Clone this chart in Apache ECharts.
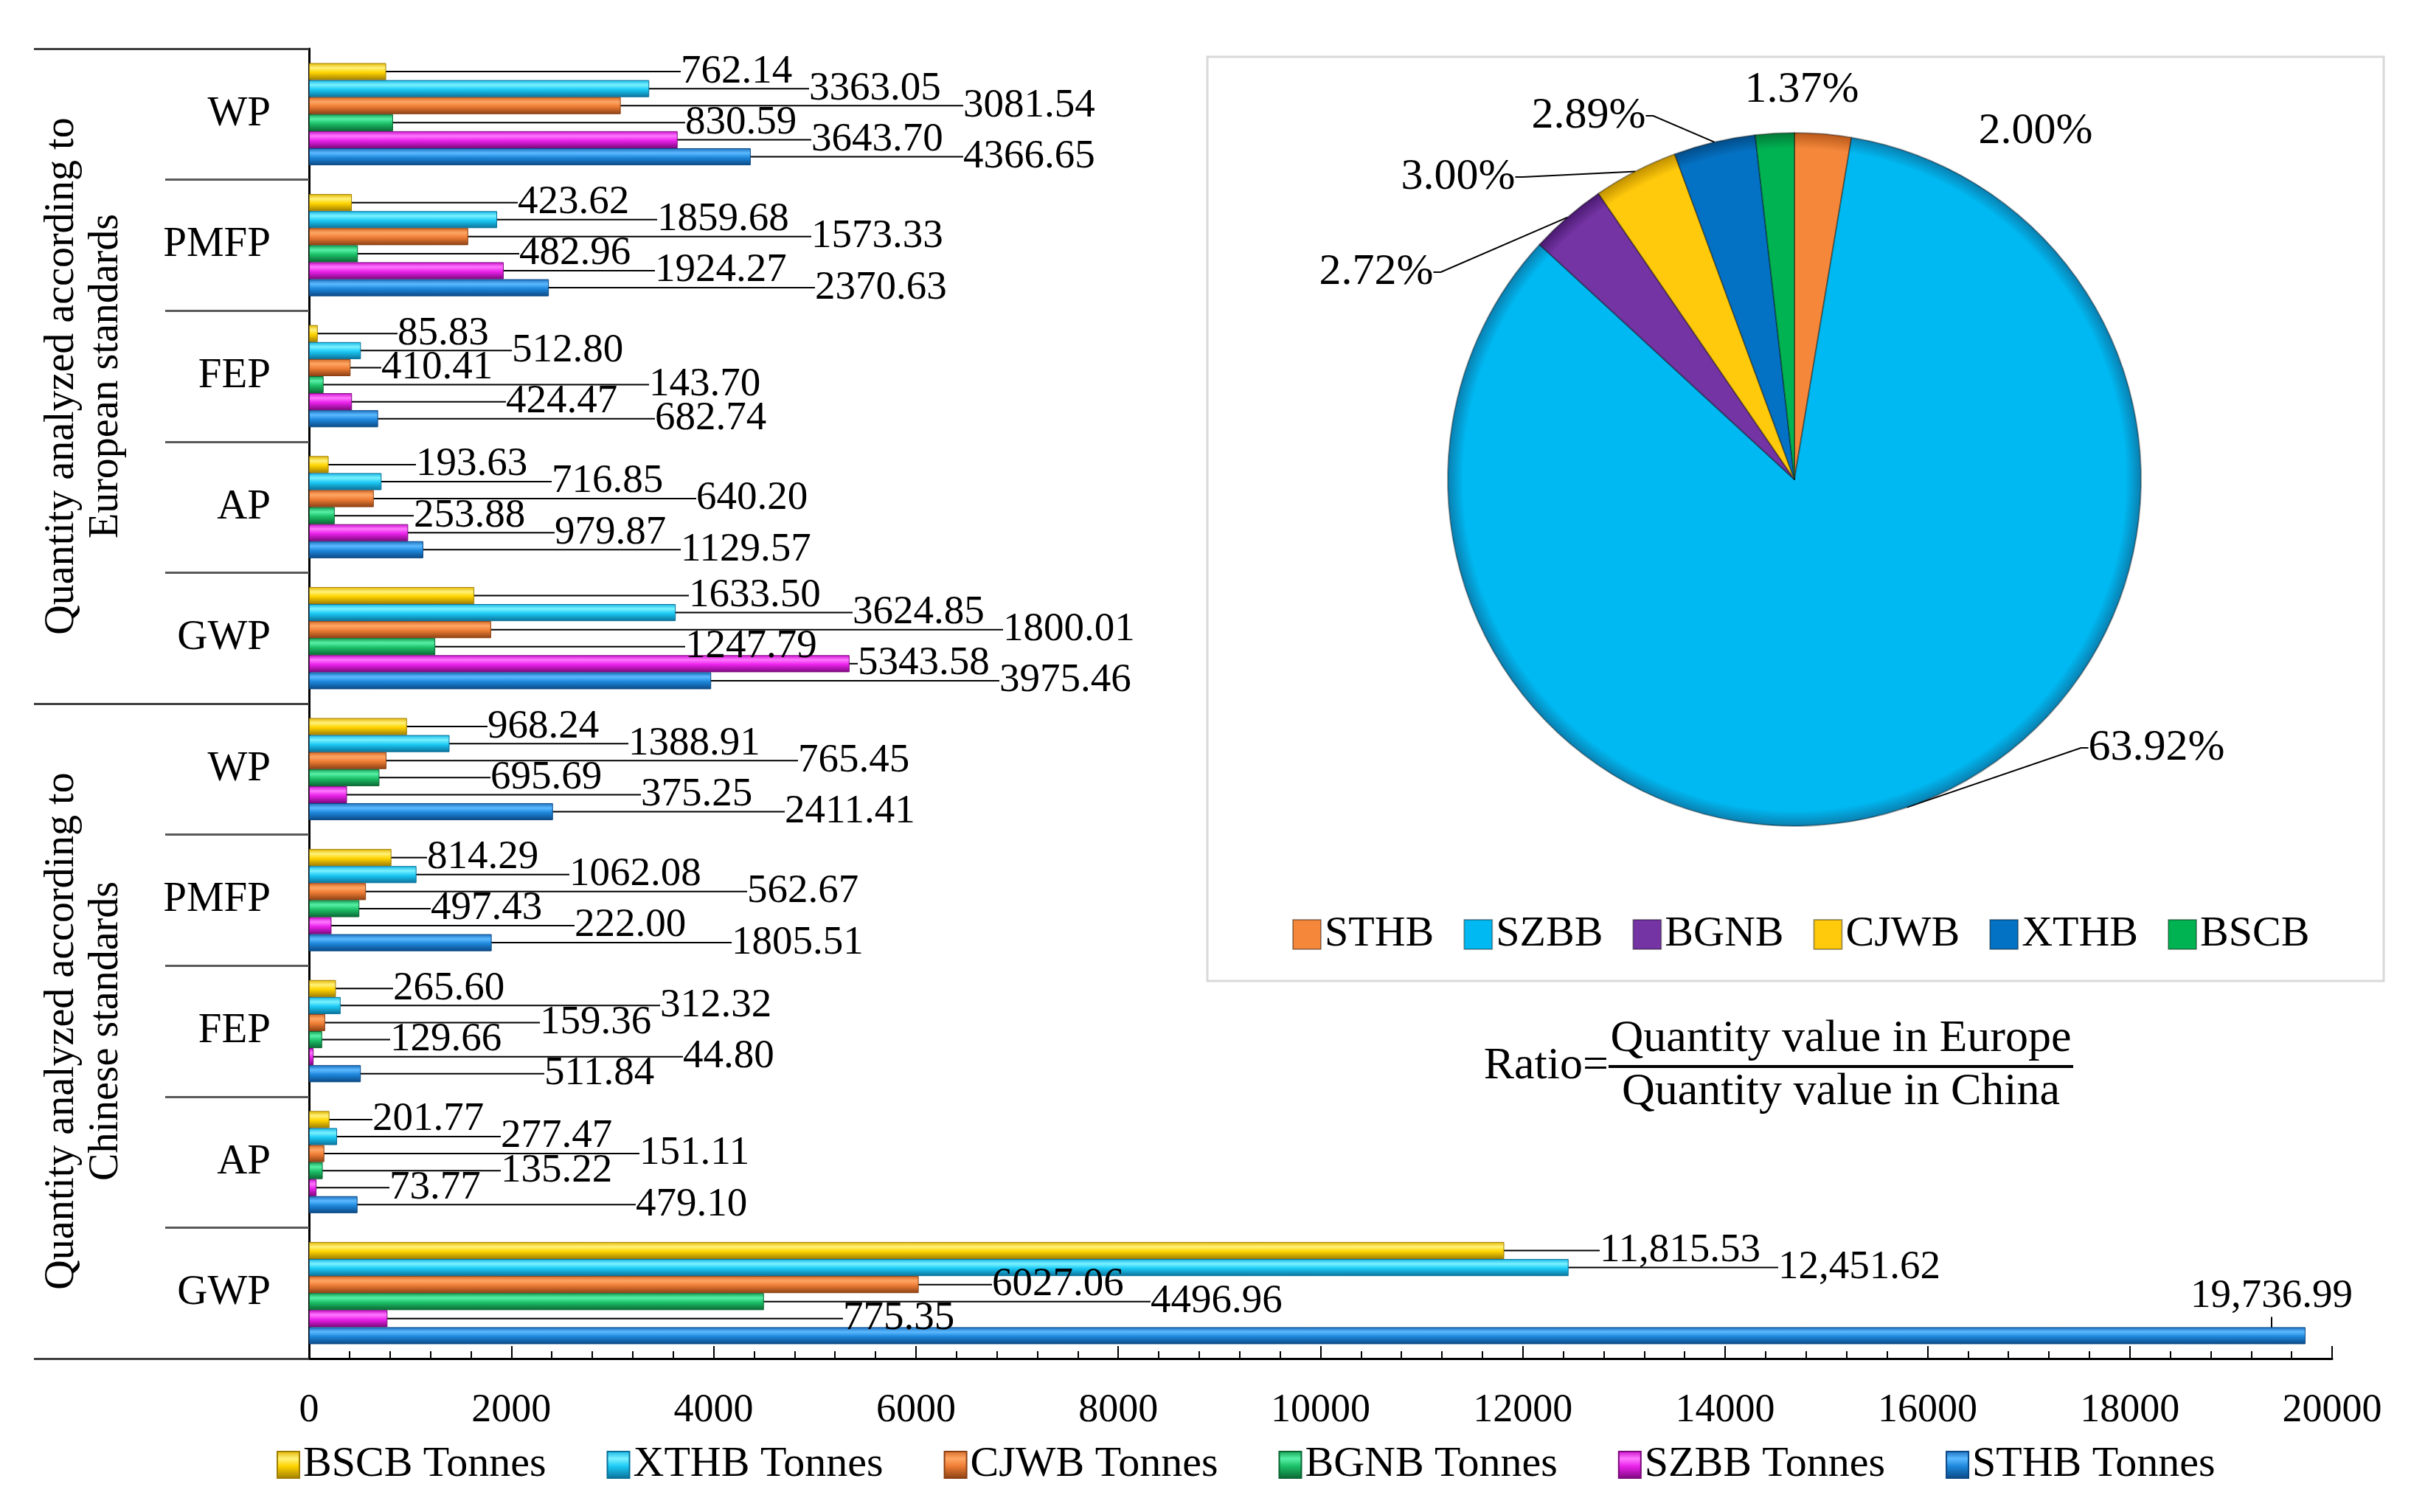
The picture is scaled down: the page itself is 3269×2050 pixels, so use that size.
<!DOCTYPE html>
<html>
<head>
<meta charset="utf-8">
<title>Quantity analyzed according to European and Chinese standards</title>
<script src="https://cdn.jsdelivr.net/npm/echarts@6/dist/echarts.min.js"></script>
<style>
  html, body { margin: 0; padding: 0; background: #fff; }
  #chart { width: 3269px; height: 2050px; }
</style>
</head>
<body>
<div id="chart"></div>
<script>
// ---------------------------------------------------------------------------
// Data
// ---------------------------------------------------------------------------

const CATEGORIES = ['WP', 'PMFP', 'FEP', 'AP', 'GWP', 'WP', 'PMFP', 'FEP', 'AP', 'GWP']
const STANDARDS = [
  'Quantity analyzed according to\nEuropean standards',
  'Quantity analyzed according to\nChinese standards',
]

const SERIES_NAMES = ['BSCB Tonnes', 'XTHB Tonnes', 'CJWB Tonnes', 'BGNB Tonnes', 'SZBB Tonnes', 'STHB Tonnes']

// first five values: European standards, last five: Chinese standards
const BSCB = [762.14, 423.62, 85.83, 193.63, 1633.50, 968.24, 814.29, 265.60, 201.77, 11815.53]
const XTHB = [3363.05, 1859.68, 512.80, 716.85, 3624.85, 1388.91, 1062.08, 312.32, 277.47, 12451.62]
const CJWB = [3081.54, 1573.33, 410.41, 640.20, 1800.01, 765.45, 562.67, 159.36, 151.11, 6027.06]
const BGNB = [830.59, 482.96, 143.70, 253.88, 1247.79, 695.69, 497.43, 129.66, 135.22, 4496.96]
const SZBB = [3643.70, 1924.27, 424.47, 979.87, 5343.58, 375.25, 222.00, 44.80, 73.77, 775.35]
const STHB = [4366.65, 2370.63, 682.74, 1129.57, 3975.46, 2411.41, 1805.51, 511.84, 479.10, 19736.99]

const X_MAX = 20000
const X_STEP = 2000

const PIE_NAMES = ['STHB', 'SZBB', 'BGNB', 'CJWB', 'XTHB', 'BSCB']
const PIE_RATIOS = [2.00, 63.92, 2.72, 3.00, 2.89, 1.37]

// ---------------------------------------------------------------------------
// Layout / style
// ---------------------------------------------------------------------------

const FONT = '"Liberation Serif", "Times New Roman", serif'

/** [base, highlight, mid, shadow] for the bevelled bars */
const BAR_SHADES = [
  ['#e2b400', '#fff27a', '#ffd400', '#a07e00'],
  ['#12b4e4', '#7af2ff', '#1ccaf5', '#0a7098'],
  ['#d66a28', '#ffa664', '#ee7d35', '#8a4014'],
  ['#14a052', '#56f0a6', '#1cc068', '#0b6633'],
  ['#cc10cc', '#ff78ff', '#ea22ea', '#7c087c'],
  ['#1a6ebe', '#5cbaff', '#1e88dc', '#0b4884'],
]

/** [fill, rim] for the pie slices */
const PIE_SHADES = [
  ['#f4873a', '#b95a1c'],
  ['#00b9f2', '#0a7fb0'],
  ['#7434a4', '#4a1a70'],
  ['#ffc90c', '#c09000'],
  ['#0472c4', '#034c88'],
  ['#00b352', '#037a38'],
]

// left edge of each value label (px), row = category, column = series
const LABEL_X = [
  [923, 1097, 1306, 929, 1100, 1306],
  [702, 891, 1100, 704, 888, 1105],
  [539, 694, 517, 880, 686, 888],
  [564, 748, 944, 561, 752, 923],
  [934, 1156, 1360, 929, 1163, 1355],
  [661, 852, 1082, 665, 869, 1064],
  [579, 772, 1013, 584, 779, 992],
  [533, 895, 732, 529, 926, 738],
  [505, 679, 867, 679, 528, 862],
  [2169, 2411, 1345, 1560, 1143, 2970],
]
// vertical shift of a few labels, key = `${dataIndex}-${seriesIndex}`
const LABEL_DY = { '9-5': -53 }

const PIE_CENTER = [2433, 650]
const PIE_RADIUS = 470
// label centre relative to the pie centre
const PIE_LABEL_OFFSET = [
  [327, -472],
  [491, 364],
  [-567, -281],
  [-456, -410],
  [-279, -493],
  [10, -528],
]
const PIE_LABEL_LINE = [false, true, true, true, true, false]

// ---------------------------------------------------------------------------
// Helpers
// ---------------------------------------------------------------------------

function fmtValue(v) {
  if (v >= 10000) {
    return v.toLocaleString('en-US', { minimumFractionDigits: 2, maximumFractionDigits: 2 })
  }
  return v.toFixed(2)
}

function bevel(shades) {
  const [base, light, mid, dark] = shades
  return new echarts.graphic.LinearGradient(0, 0, 0, 1, [
    { offset: 0, color: base },
    { offset: 0.28, color: light },
    { offset: 0.55, color: mid },
    { offset: 1, color: dark },
  ])
}

function rim(shades) {
  const [fill, edge] = shades
  return new echarts.graphic.RadialGradient(PIE_CENTER[0], PIE_CENTER[1], PIE_RADIUS, [
    { offset: 0, color: fill },
    { offset: 0.955, color: fill },
    { offset: 1, color: edge },
  ], true)
}

// ---------------------------------------------------------------------------
// Chart
// ---------------------------------------------------------------------------

const chart = echarts.init(document.getElementById('chart'), null, { renderer: 'canvas' })

const barValues = [BSCB, XTHB, CJWB, BGNB, SZBB, STHB]

const barSeries = barValues.map((values, si) => ({
  name: SERIES_NAMES[si],
  type: 'bar',
  xAxisIndex: 0,
  yAxisIndex: 0,
  data: values,
  barGap: '0%',
  barCategoryGap: '22%',
  itemStyle: {
    color: bevel(BAR_SHADES[si]),
    borderColor: BAR_SHADES[si][3],
    borderWidth: 1,
  },
  label: {
    show: true,
    position: 'right',
    formatter: (p) => fmtValue(p.value),
    fontFamily: FONT,
    fontSize: 55,
    color: '#000',
  },
  labelLine: {
    show: true,
    lineStyle: { color: '#000', width: 2 },
  },
  labelLayout: (p) => ({
    x: LABEL_X[p.dataIndex][p.seriesIndex],
    y: p.rect.y + p.rect.height / 2 + (LABEL_DY[`${p.dataIndex}-${p.seriesIndex}`] || 0),
    align: 'left',
    verticalAlign: 'middle',
  }),
}))

const pieSeries = {
  name: 'Ratio',
  type: 'pie',
  center: PIE_CENTER,
  radius: PIE_RADIUS,
  startAngle: 90,
  clockwise: true,
  data: PIE_NAMES.map((name, i) => ({
    name,
    value: PIE_RATIOS[i],
    itemStyle: { color: rim(PIE_SHADES[i]) },
    labelLine: { show: PIE_LABEL_LINE[i] },
  })),
  itemStyle: {
    borderColor: 'rgba(0,0,0,0.35)',
    borderWidth: 2,
  },
  label: {
    show: true,
    position: 'outside',
    formatter: (p) => p.value.toFixed(2) + '%',
    fontFamily: FONT,
    fontSize: 60,
    color: '#000',
  },
  labelLine: {
    length: 20,
    length2: 10,
    lineStyle: { color: '#000', width: 2 },
  },
  labelLayout: (p) => ({
    x: PIE_CENTER[0] + PIE_LABEL_OFFSET[p.dataIndex][0],
    y: PIE_CENTER[1] + PIE_LABEL_OFFSET[p.dataIndex][1],
    align: 'center',
    verticalAlign: 'middle',
  }),
  emphasis: { disabled: true },
  z: 3,
}

const axisText = { fontFamily: FONT, fontSize: 54, color: '#000' }

chart.setOption({
  animation: false,
  backgroundColor: '#fff',
  grid: { left: 419, right: 107, top: 66, bottom: 208, containLabel: false },
  legend: [
    {
      data: SERIES_NAMES,
      left: 370,
      top: 1952,
      icon: 'rect',
      itemWidth: 30,
      itemHeight: 36,
      itemGap: 82,
      textStyle: { ...axisText, fontSize: 58 },
    },
    {
      // pie legend shares the item colours, so give it plain swatches
      data: PIE_NAMES.map((name, i) => ({ name, itemStyle: { color: PIE_SHADES[i][0] } })),
      left: 1747,
      top: 1233,
      icon: 'rect',
      itemWidth: 38,
      itemHeight: 40,
      itemGap: 40,
      textStyle: { ...axisText, fontSize: 58 },
    },
  ],
  xAxis: {
    type: 'value',
    min: 0,
    max: X_MAX,
    interval: X_STEP,
    axisLine: { show: true, lineStyle: { color: '#000', width: 3 } },
    axisTick: { show: true, inside: true, length: 17, lineStyle: { color: '#000', width: 2 } },
    minorTick: { show: true, splitNumber: 5, length: 10, lineStyle: { color: '#000', width: 2 } },
    splitLine: { show: false },
    axisLabel: { ...axisText, margin: 44, formatter: (v) => String(v) },
  },
  yAxis: [
    {
      type: 'category',
      data: CATEGORIES,
      inverse: true,
      axisLine: { show: true, lineStyle: { color: '#000', width: 3 } },
      axisTick: { show: true, interval: 0, length: 195, lineStyle: { color: '#595959', width: 3 } },
      axisLabel: { ...axisText, fontSize: 57, interval: 0, margin: 52 },
    },
    {
      type: 'category',
      data: STANDARDS,
      inverse: true,
      position: 'left',
      axisLine: { show: false },
      axisTick: { show: true, interval: 0, length: 373, lineStyle: { color: '#404040', width: 3 } },
      axisLabel: { ...axisText, fontSize: 56, interval: 0, rotate: 90, margin: 245, lineHeight: 60 },
    },
  ],
  graphic: [
    {
      type: 'rect',
      shape: { x: 1637, y: 77, width: 1595, height: 1253 },
      style: { fill: '#fff', stroke: '#d9d9d9', lineWidth: 3 },
      z: 0,
    },
    {
      type: 'text',
      x: 2181, y: 1446,
      style: { text: 'Ratio=', font: `62px ${FONT}`, fill: '#000', align: 'right', verticalAlign: 'middle' },
    },
    {
      type: 'text',
      x: 2496, y: 1409,
      style: { text: 'Quantity value in Europe', font: `62px ${FONT}`, fill: '#000', align: 'center', verticalAlign: 'middle' },
    },
    {
      type: 'line',
      shape: { x1: 2181, y1: 1446, x2: 2811, y2: 1446 },
      style: { stroke: '#000', lineWidth: 4 },
    },
    {
      type: 'text',
      x: 2496, y: 1481,
      style: { text: 'Quantity value in China', font: `62px ${FONT}`, fill: '#000', align: 'center', verticalAlign: 'middle' },
    },
  ],
  series: [...barSeries, pieSeries],
})

window.addEventListener('resize', () => chart.resize())
</script>
</body>
</html>
